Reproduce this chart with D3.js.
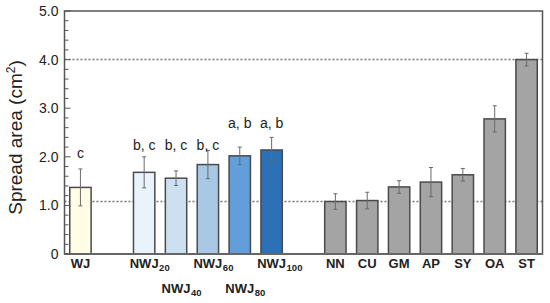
<!DOCTYPE html>
<html><head><meta charset="utf-8">
<script src="https://cdn.jsdelivr.net/npm/d3@7"></script>
<style>body{margin:0;background:#fff}svg{display:block}</style>
</head><body>
<svg id="c" width="550" height="303"></svg>
<script>
// ---- data ----
const slots = ["WJ","gap1","NWJ20","NWJ40","NWJ60","NWJ80","NWJ100","gap2","NN","CU","GM","AP","SY","OA","ST"];
const categories = ["WJ","NWJ20","NWJ40","NWJ60","NWJ80","NWJ100","NN","CU","GM","AP","SY","OA","ST"];
const labelMain = ["WJ","NWJ","NWJ","NWJ","NWJ","NWJ","NN","CU","GM","AP","SY","OA","ST"];
const labelSub  = ["","20","40","60","80","100","","","","","","",""];
const means  = [1.37,1.68,1.56,1.84,2.02,2.14,1.08,1.10,1.38,1.48,1.63,2.78,4.00];
const errors = [0.38,0.32,0.15,0.29,0.18,0.26,0.16,0.17,0.13,0.30,0.13,0.27,0.13];
const letters = ["c","b, c","b, c","b, c","a, b","a, b","","","","","","",""];
const letterAt = [1.97,2.14,2.14,2.14,2.59,2.59,0,0,0,0,0,0,0];
const refLines = [1.08, 4.0];
const yTicks = [0,1,2,3,4,5];
const yTickLabels = ["0","1.0","2.0","3.0","4.0","5.0"];
const colors = ["#fffde5","#eaf2fb","#cde0f1","#a8c8e6","#629fd9","#2c70b5","#a4a4a4","#a4a4a4","#a4a4a4","#a4a4a4","#a4a4a4","#a4a4a4","#a4a4a4"];

// ---- layout ----
const L = 64.5, R = 542.5, T = 11, B = 254;
const svg = d3.select("#c");
const x = d3.scaleBand().domain(slots).range([L, R]).padding(0);
const y = d3.scaleLinear().domain([0,5]).range([B, T]);
const bw = x.bandwidth()*0.67;
const font = "Arial, 'Liberation Sans', Helvetica, sans-serif";

// reference dotted lines
svg.selectAll(".ref").data(refLines).enter().append("line")
  .attr("x1", L).attr("x2", R).attr("y1", d=>y(d)).attr("y2", d=>y(d))
  .attr("stroke","#777").attr("stroke-width",1.5).attr("stroke-dasharray","2,2");

// bars
const data = categories.map((c,i)=>({c, m:means[i], e:errors[i], col:colors[i], lt:letters[i], la:letterAt[i], lm:labelMain[i], ls:labelSub[i], i}));
svg.selectAll(".bar").data(data).enter().append("rect")
  .attr("x", d=>x(d.c)+x.bandwidth()/2-bw/2).attr("width", bw)
  .attr("y", d=>y(d.m)).attr("height", d=>B-y(d.m))
  .attr("fill", d=>d.col).attr("stroke","#4a4a4a").attr("stroke-width",1.5);

// error bars
const eg = svg.selectAll(".err").data(data).enter().append("g").attr("stroke","#6a6a6a").attr("stroke-width",1);
eg.append("line").attr("x1",d=>x(d.c)+x.bandwidth()/2).attr("x2",d=>x(d.c)+x.bandwidth()/2)
  .attr("y1",d=>y(d.m+d.e)).attr("y2",d=>y(d.m-d.e));
eg.append("line").attr("x1",d=>x(d.c)+x.bandwidth()/2-2).attr("x2",d=>x(d.c)+x.bandwidth()/2+2)
  .attr("y1",d=>y(d.m+d.e)).attr("y2",d=>y(d.m+d.e));
eg.append("line").attr("x1",d=>x(d.c)+x.bandwidth()/2-2).attr("x2",d=>x(d.c)+x.bandwidth()/2+2)
  .attr("y1",d=>y(d.m-d.e)).attr("y2",d=>y(d.m-d.e));

// significance letters
svg.selectAll(".lt").data(data.filter(d=>d.lt)).enter().append("text")
  .attr("x", d=>x(d.c)+x.bandwidth()/2).attr("y", d=>y(d.la))
  .attr("text-anchor","middle").attr("font-family",font).attr("font-size",14).attr("fill","#222")
  .text(d=>d.lt);

// frame
svg.append("rect").attr("x",L).attr("y",T).attr("width",R-L).attr("height",B-T)
  .attr("fill","none").attr("stroke","#555").attr("stroke-width",1.5);
svg.append("line").attr("x1",L).attr("x2",R).attr("y1",B).attr("y2",B).attr("stroke","#666").attr("stroke-width",2);

// y ticks (inside)
const minor = d3.range(0, 5.001, 0.2);
svg.selectAll(".mt").data(minor).enter().append("line")
  .attr("x1",L).attr("x2",d=>L+(Math.abs(d-Math.round(d))<1e-6?6:4))
  .attr("y1",d=>y(d)).attr("y2",d=>y(d)).attr("stroke","#555").attr("stroke-width",1);
svg.selectAll(".yl").data(yTicks).enter().append("text")
  .attr("x", L-6).attr("y", d=>y(d)+5).attr("text-anchor","end")
  .attr("font-family",font).attr("font-size",14).attr("fill","#222")
  .text((d,i)=>yTickLabels[i]);

// y title
const yt = svg.append("text").attr("transform","translate(22,137.5) rotate(-90)")
  .attr("text-anchor","middle").attr("font-family",font).attr("font-size",19).attr("fill","#222");
yt.append("tspan").text("Spread area (cm");
yt.append("tspan").attr("font-size",12).attr("dy",-7).text("2");
yt.append("tspan").attr("dy",7).text(")");

// x labels
data.forEach(d=>{
  const cx = x(d.c)+x.bandwidth()/2;
  const row2 = (d.c==="NWJ40"||d.c==="NWJ80");
  const by = row2 ? 293 : 267.5;
  const t = svg.append("text").attr("y",by).attr("font-family",font).attr("font-size",13)
    .attr("font-weight","bold").attr("fill","#222").text(d.lm);
  const w = t.node().getComputedTextLength();
  t.attr("x", cx - w/2);
  if (d.ls) {
    svg.append("text").attr("x", cx + w/2 + 0.5).attr("y", by+3).attr("font-family",font)
      .attr("font-size",9.5).attr("font-weight","bold").attr("fill","#222").text(d.ls);
  }
});
</script>
</body></html>
